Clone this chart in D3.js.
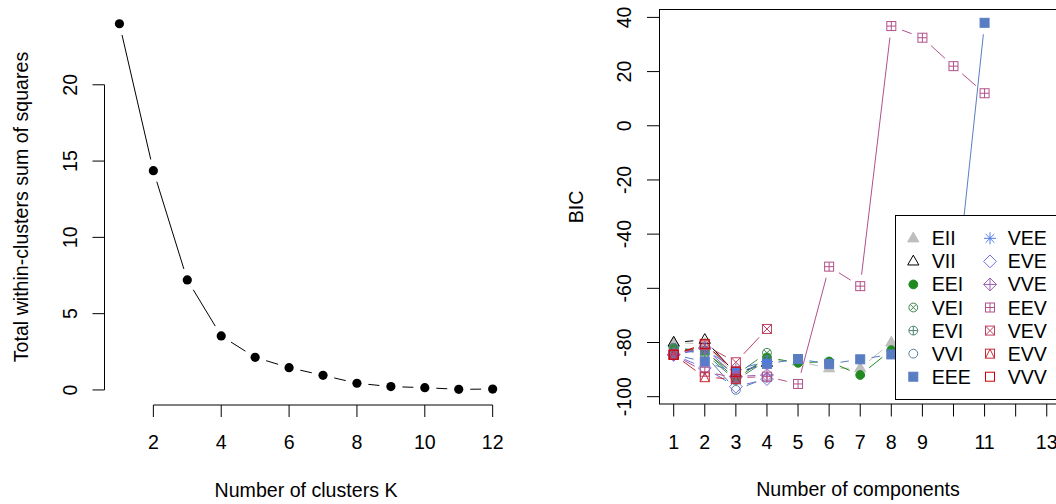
<!DOCTYPE html>
<html><head><meta charset="utf-8">
<script src="https://cdn.jsdelivr.net/npm/d3@7"></script>
<style>
body{margin:0;background:#fff}
svg{display:block}
text{font-family:"Liberation Sans",Arial,sans-serif;fill:#000;font-size:19.6px}
</style>
</head><body>
<svg id="chart" width="1056" height="504"></svg>
<script>
// ---------- Data: left panel (elbow) ----------
const kValues = [1,2,3,4,5,6,7,8,9,10,11,12];
const wss = [24.0,14.37,7.21,3.54,2.14,1.46,0.96,0.44,0.22,0.15,0.04,0.06];
const leftXTicks = [2,4,6,8,10,12];
const leftYTicks = [0,5,10,15,20];

// ---------- Data: right panel (BIC) ----------
const components = [1,2,3,4,5,6,7,8,9,10,11];
const bicXTicks = [1,2,3,4,5,6,7,8,9,10,11,12,13];
const bicXTickLabels = ["1","2","3","4","5","6","7","8","9","","11","","13"];
const bicYTicks = [-100,-80,-60,-40,-20,0,20,40];
const modelNames = ["EII","VII","EEI","VEI","EVI","VVI","EEE","VEE","EVE","VVE","EEV","VEV","EVV","VVV"];
const modelColors = ["#BEBEBE","#000000","#218B21","#41884F","#508476","#58819C","#597DC3","#5178EA","#716EE7","#9B60B8","#B2508B","#C03F60","#C82A36","#CC0000"];
const modelSymbols = ["triF","triO","cirF","cirX","cirP","cirO","sqF","ast","dia","diaP","sqP","sqX","sqT","sqO"];
const bicEII = [-80.0,-80.5,-92.0,-86.5,-87.0,-89.5,-89.5,-80.0,-84.0,null,null];
const bicVII = [-80.0,-79.0,-91.5,-87.5,null,null,null,null,null,null,null];
const bicEEI = [-82.0,-83.0,-93.5,-85.5,-87.5,-87.0,-92.0,-82.8,-85.0,null,null];
const bicVEI = [-82.0,-83.5,-92.0,-83.8,null,null,null,null,null,null,null];
const bicEVI = [-82.0,-84.0,-94.0,-86.5,null,null,null,null,null,null,null];
const bicVVI = [-82.0,-84.5,-97.5,-93.0,null,null,null,null,null,null,null];
const bicEEE = [-84.5,-87.1,-91.0,-87.9,-86.1,-87.9,-86.2,-84.4,-85.0,-70.0,38.0];
const bicVEE = [-84.5,-82.5,-90.0,-87.0,null,null,null,null,null,null,null];
const bicEVE = [-84.5,-89.4,-96.3,-93.5,null,null,null,null,null,null,null];
const bicVVE = [-84.5,-82.0,-92.5,-92.0,null,null,null,null,null,null,null];
const bicEEV = [-84.5,-90.8,-93.0,-92.6,-95.3,-52.0,-59.2,36.8,32.5,22.0,12.0];
const bicVEV = [-84.5,-81.0,-87.3,-75.0,null,null,null,null,null,null,null];
const bicEVV = [-84.5,-92.8,-93.5,null,null,null,null,null,null,null,null];
const bicVVV = [-84.5,-80.5,-90.8,null,null,null,null,null,null,null,null];
const bicSeries = [bicEII,bicVII,bicEEI,bicVEI,bicEVI,bicVVI,bicEEE,bicVEE,bicEVE,bicVVE,bicEEV,bicVEV,bicEVV,bicVVV];

const svg = d3.select("#chart");
const GAP = 11.5;

function gappedSegments(g, pts, color){
  for(let i=0;i<pts.length-1;i++){
    const a=pts[i], b=pts[i+1];
    if(!a||!b) continue;
    const dx=b[0]-a[0], dy=b[1]-a[1], d=Math.hypot(dx,dy);
    if(d<=2*GAP) continue;
    const ux=dx/d, uy=dy/d;
    g.append("line")
      .attr("x1",a[0]+ux*GAP).attr("y1",a[1]+uy*GAP)
      .attr("x2",b[0]-ux*GAP).attr("y2",b[1]-uy*GAP)
      .attr("stroke",color).attr("stroke-width",1);
  }
}

function drawSymbol(g, type, color, x, y){
  const s = g.append("g").attr("transform",`translate(${x},${y})`)
    .attr("stroke",color).attr("stroke-width",1).attr("fill","none");
  const r=4.4, h=4.5, dd=6.4;
  const line=(x1,y1,x2,y2)=>s.append("line").attr("x1",x1).attr("y1",y1).attr("x2",x2).attr("y2",y2);
  switch(type){
    case "triF": s.append("path").attr("d","M0,-6.2L5.6,3.6L-5.6,3.6Z").attr("fill",color); break;
    case "triO": s.append("path").attr("d","M0,-6.2L5.6,3.6L-5.6,3.6Z"); break;
    case "cirF": s.append("circle").attr("r",r).attr("fill",color); break;
    case "cirO": s.append("circle").attr("r",r); break;
    case "cirX": s.append("circle").attr("r",r); line(-3.1,-3.1,3.1,3.1); line(-3.1,3.1,3.1,-3.1); break;
    case "cirP": s.append("circle").attr("r",r); line(-r,0,r,0); line(0,-r,0,r); break;
    case "sqF": s.append("rect").attr("x",-h).attr("y",-h).attr("width",2*h).attr("height",2*h).attr("fill",color); break;
    case "sqO": s.append("rect").attr("x",-h).attr("y",-h).attr("width",2*h).attr("height",2*h); break;
    case "sqP": s.append("rect").attr("x",-h).attr("y",-h).attr("width",2*h).attr("height",2*h); line(-h,0,h,0); line(0,-h,0,h); break;
    case "sqX": s.append("rect").attr("x",-h).attr("y",-h).attr("width",2*h).attr("height",2*h); line(-h,-h,h,h); line(-h,h,h,-h); break;
    case "sqT": s.append("rect").attr("x",-h).attr("y",-h).attr("width",2*h).attr("height",2*h); s.append("path").attr("d",`M${-h},${h}L0,${-h}L${h},${h}`); break;
    case "ast": line(-6,0,6,0); line(0,-6,0,6); line(-4.3,-4.3,4.3,4.3); line(-4.3,4.3,4.3,-4.3); break;
    case "dia": s.append("path").attr("d",`M0,${-dd}L${dd},0L0,${dd}L${-dd},0Z`); break;
    case "diaP": s.append("path").attr("d",`M0,${-dd}L${dd},0L0,${dd}L${-dd},0Z`); line(-dd,0,dd,0); line(0,-dd,0,dd); break;
  }
}

// ================= LEFT PANEL =================
{
  const x = d3.scaleLinear().domain([0.56,12.44]).range([104.5,507.6]);
  const y = d3.scaleLinear().domain([-0.96,24.96]).range([404.6,9.1]);
  const g = svg.append("g");

  g.append("line").attr("x1",104.5).attr("x2",104.5).attr("y1",y(0)).attr("y2",y(20)).attr("stroke","#000");
  leftYTicks.forEach(t=>{
    g.append("line").attr("x1",92.5).attr("x2",104.5).attr("y1",y(t)).attr("y2",y(t)).attr("stroke","#000");
    g.append("text").attr("transform",`translate(77,${y(t)}) rotate(-90)`).attr("text-anchor","middle").text(t);
  });
  g.append("line").attr("x1",x(2)).attr("x2",x(12)).attr("y1",405).attr("y2",405).attr("stroke","#000");
  leftXTicks.forEach(t=>{
    g.append("line").attr("x1",x(t)).attr("x2",x(t)).attr("y1",405).attr("y2",417).attr("stroke","#000");
    g.append("text").attr("x",x(t)).attr("y",448.5).attr("text-anchor","middle").text(t);
  });
  g.append("text").attr("x",306).attr("y",497).attr("text-anchor","middle").text("Number of clusters K");
  g.append("text").attr("transform","translate(27.5,207) rotate(-90)").attr("text-anchor","middle").text("Total within-clusters sum of squares");

  const pts = kValues.map((k,i)=>[x(k),y(wss[i])]);
  gappedSegments(g, pts, "#000");
  g.selectAll("circle.pt").data(pts).join("circle").attr("class","pt")
    .attr("cx",d=>d[0]).attr("cy",d=>d[1]).attr("r",4.6).attr("fill","#000");
}

// ================= RIGHT PANEL =================
{
  const x = d3.scaleLinear().domain([0.537,13.32]).range([659.3,1056.7]);
  const y = d3.scaleLinear().domain([-102.7,43.1]).range([404,9]);
  const g = svg.append("g");

  bicSeries.forEach((vals,m)=>{
    const pts = components.map((c,i)=> vals[i]==null ? null : [x(c),y(vals[i])]);
    gappedSegments(g, pts, modelColors[m]);
  });
  bicSeries.forEach((vals,m)=>{
    components.forEach((c,i)=>{
      if(vals[i]!=null) drawSymbol(g, modelSymbols[m], modelColors[m], x(c), y(vals[i]));
    });
  });

  g.append("rect").attr("x",659.5).attr("y",9.5).attr("width",420).attr("height",394.5)
    .attr("fill","none").attr("stroke","#000");
  bicYTicks.forEach(t=>{
    g.append("line").attr("x1",647).attr("x2",659.5).attr("y1",y(t)).attr("y2",y(t)).attr("stroke","#000");
    g.append("text").attr("transform",`translate(631,${y(t)}) rotate(-90)`).attr("text-anchor","middle").text(t);
  });
  bicXTicks.forEach((t,i)=>{
    g.append("line").attr("x1",x(t)).attr("x2",x(t)).attr("y1",404).attr("y2",416.5).attr("stroke","#000");
    if(bicXTickLabels[i]) g.append("text").attr("x",x(t)).attr("y",448.5).attr("text-anchor","middle").text(bicXTickLabels[i]);
  });
  g.append("text").attr("x",858).attr("y",496).attr("text-anchor","middle").text("Number of components");
  g.append("text").attr("transform","translate(582.5,207) rotate(-90)").attr("text-anchor","middle").text("BIC");

  const lg = svg.append("g");
  lg.append("rect").attr("x",895.5).attr("y",215.5).attr("width",200).attr("height",184)
    .attr("fill","#fff").attr("stroke","#000");
  modelNames.forEach((name,i)=>{
    const col = Math.floor(i/7), row = i%7;
    const sx = col===0 ? 913.3 : 990;
    const tx = col===0 ? 931.7 : 1007.7;
    const cy = 238.3 + row*23.07;
    drawSymbol(lg, modelSymbols[i], modelColors[i], sx, cy);
    lg.append("text").attr("x",tx).attr("y",cy+7).text(name);
  });
}
</script>
</body></html>
